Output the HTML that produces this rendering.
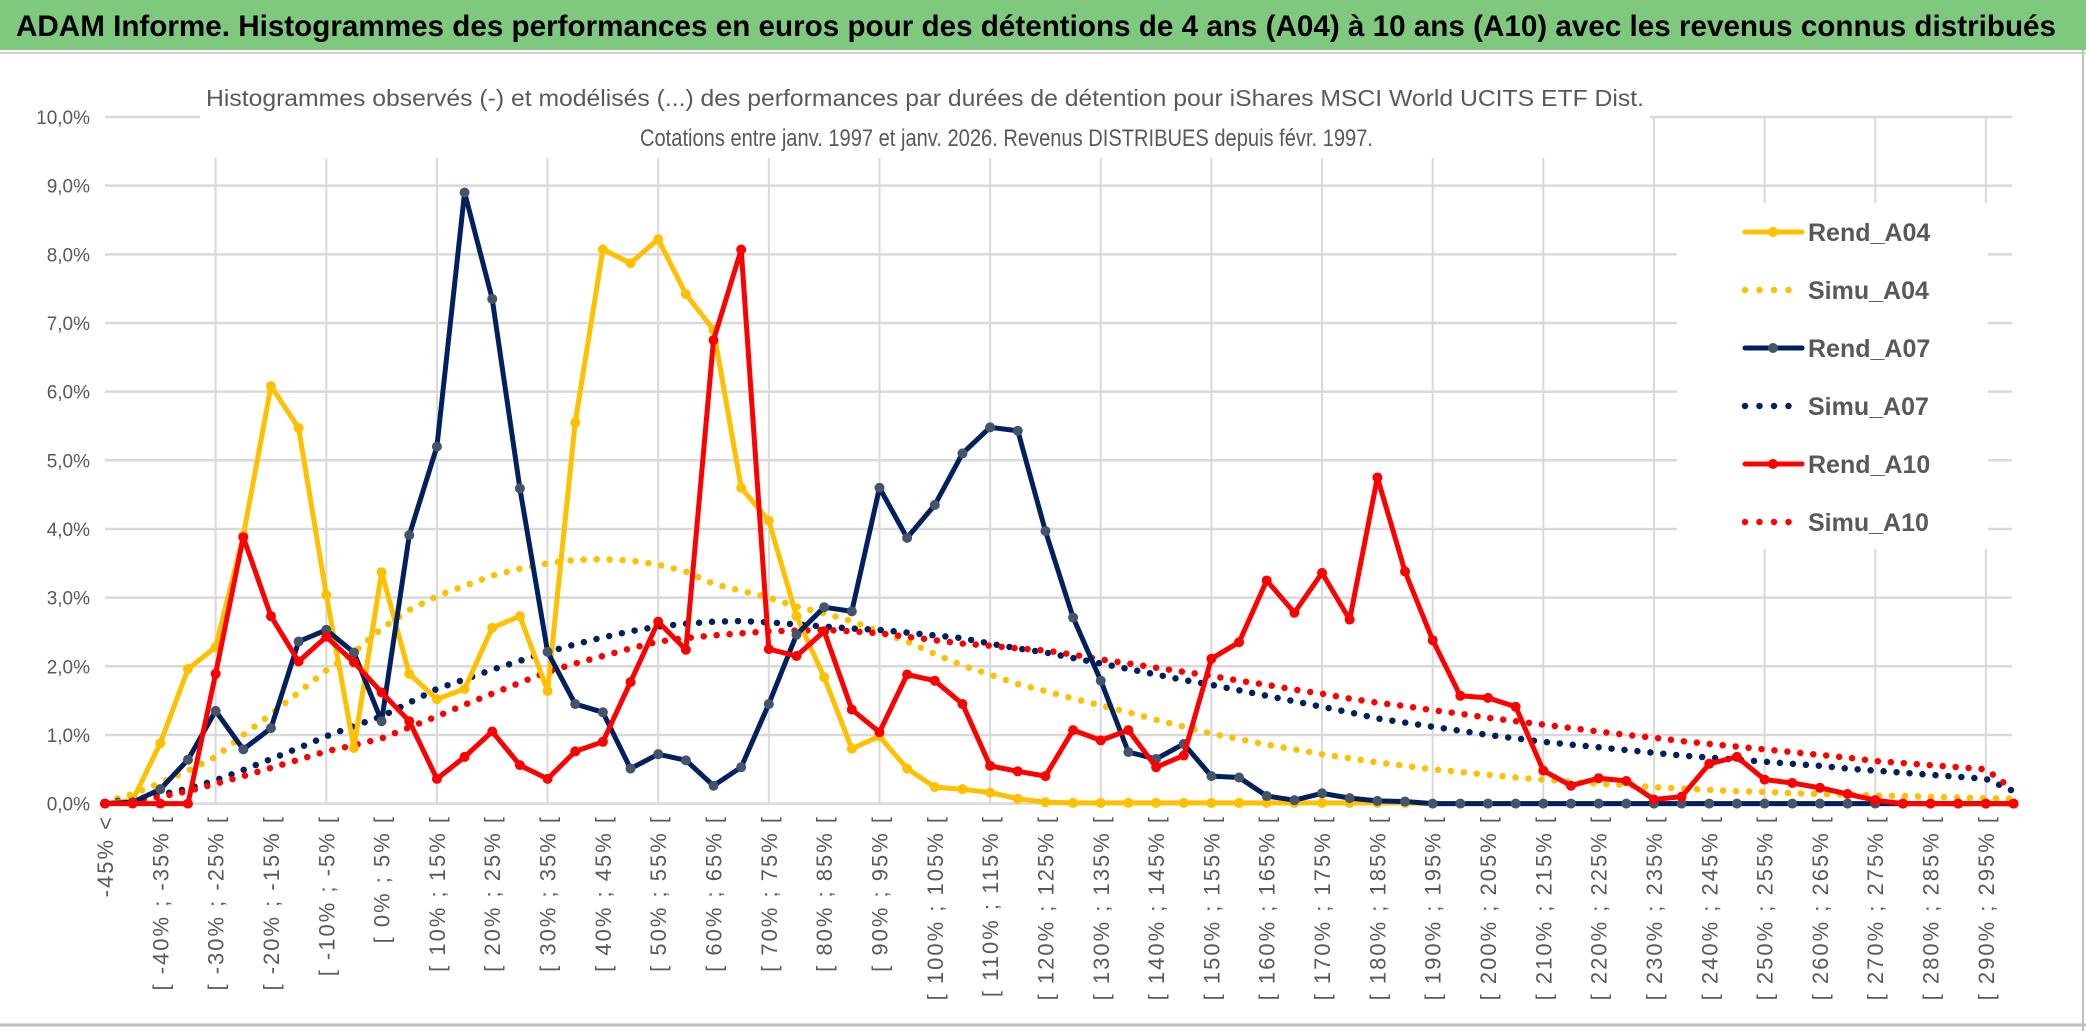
<!DOCTYPE html>
<html><head><meta charset="utf-8">
<style>
html,body{margin:0;padding:0;background:#fff;}
svg{display:block;}
text{font-family:"Liberation Sans",sans-serif;}
</style></head>
<body>
<svg id="chart" width="2086" height="1031" viewBox="0 0 2086 1031" xmlns="http://www.w3.org/2000/svg">
<rect x="0" y="0" width="2086" height="1031" fill="#fff"/>
<rect x="0" y="0" width="2086" height="50" fill="#7fc97f"/>
<line x1="0" y1="53" x2="2086" y2="53" stroke="#d0d0d0" stroke-width="2"/>
<text x="16" y="36" font-size="30" font-weight="bold" fill="#000" textLength="2040" lengthAdjust="spacingAndGlyphs">ADAM Informe. Histogrammes des performances en euros pour des détentions de 4 ans (A04) à 10 ans (A10) avec les revenus connus distribués</text>
<line x1="2083" y1="50" x2="2083" y2="1031" stroke="#bfbfbf" stroke-width="2"/>
<line x1="0" y1="1025" x2="2086" y2="1025" stroke="#bfbfbf" stroke-width="3"/>
<g id="grid"></g>
<rect x="200" y="60" width="1450" height="98" fill="#fff"/>
<text x="206" y="106" font-size="23" fill="#595959" textLength="1438" lengthAdjust="spacingAndGlyphs">Histogrammes observés (-) et modélisés (...) des performances par durées de détention pour iShares MSCI World UCITS ETF Dist.</text>
<text x="640" y="146" font-size="24" fill="#595959" textLength="733" lengthAdjust="spacingAndGlyphs">Cotations entre janv. 1997 et janv. 2026. Revenus DISTRIBUES depuis févr. 1997.</text>
<g id="yticks"></g>
<g id="xticks"></g>
<g id="series"></g>
<g id="legend"></g>
</svg>
<script>
const categories=["-45% <"];
const binStarts=[];
for(let a=-45;a<=295;a+=5){binStarts.push(a);}
const yTicks=[0,1,2,3,4,5,6,7,8,9,10];
const yTickLabels=["0,0%","1,0%","2,0%","3,0%","4,0%","5,0%","6,0%","7,0%","8,0%","9,0%","10,0%"];
const rendA04=[0,0.05,0.88,1.96,2.28,3.9,6.08,5.47,3.04,0.81,3.37,1.89,1.52,1.67,2.56,2.73,1.64,5.55,8.07,7.87,8.22,7.42,6.9,4.6,4.12,2.73,1.84,0.8,0.98,0.51,0.24,0.21,0.16,0.07,0.02,0.01,0.01,0.01,0.01,0.01,0.01,0.01,0.01,0.01,0.01,0.01,0.01,0.01,0,0,0,0,0,0,0,0,0,0,0,0,0,0,0,0,0,0,0,0,0,0];
const simuA04=[0.02,0.14,0.3,0.48,0.68,1.0,1.3,1.62,1.94,2.2,2.55,2.82,3.02,3.17,3.32,3.42,3.5,3.55,3.56,3.54,3.48,3.38,3.2,3.1,3.0,2.87,2.77,2.66,2.5,2.36,2.18,2.01,1.88,1.74,1.64,1.53,1.43,1.33,1.22,1.12,1.02,0.94,0.86,0.79,0.72,0.66,0.6,0.55,0.5,0.46,0.42,0.38,0.35,0.32,0.29,0.27,0.24,0.22,0.2,0.18,0.17,0.15,0.14,0.13,0.12,0.11,0.1,0.09,0.08,0.07];
const rendA07=[0,0.02,0.21,0.64,1.35,0.79,1.1,2.36,2.53,2.2,1.2,3.91,5.2,8.9,7.35,4.59,2.21,1.45,1.33,0.51,0.72,0.63,0.26,0.53,1.45,2.46,2.86,2.8,4.6,3.87,4.35,5.1,5.48,5.43,3.97,2.71,1.79,0.75,0.65,0.87,0.4,0.38,0.11,0.05,0.15,0.08,0.04,0.03,0,0,0,0,0,0,0,0,0,0,0,0,0,0,0,0,0,0,0,0,0,0];
const simuA07=[0.02,0.06,0.13,0.22,0.34,0.49,0.65,0.81,0.98,1.13,1.27,1.47,1.67,1.81,1.95,2.08,2.21,2.32,2.42,2.51,2.58,2.62,2.65,2.66,2.64,2.61,2.58,2.55,2.53,2.49,2.45,2.41,2.33,2.26,2.2,2.12,2.04,1.96,1.88,1.8,1.73,1.65,1.57,1.49,1.41,1.33,1.24,1.18,1.12,1.06,1.0,0.95,0.9,0.86,0.82,0.78,0.74,0.7,0.67,0.64,0.61,0.58,0.55,0.51,0.48,0.45,0.42,0.39,0.36,0.18];
const rendA10=[0,0,0,0,1.89,3.88,2.73,2.07,2.43,2.06,1.62,1.2,0.36,0.68,1.05,0.56,0.36,0.76,0.9,1.77,2.65,2.24,6.75,8.07,2.25,2.15,2.51,1.37,1.04,1.88,1.79,1.45,0.55,0.47,0.4,1.07,0.92,1.07,0.53,0.7,2.11,2.35,3.25,2.78,3.36,2.68,4.75,3.38,2.38,1.57,1.54,1.41,0.48,0.26,0.37,0.33,0.06,0.1,0.58,0.68,0.35,0.3,0.23,0.14,0.05,0,0,0,0,0];
const simuA10=[0.01,0.04,0.1,0.18,0.29,0.4,0.52,0.64,0.76,0.85,0.95,1.11,1.27,1.44,1.6,1.76,1.92,2.04,2.15,2.26,2.36,2.41,2.45,2.48,2.51,2.52,2.53,2.51,2.48,2.43,2.38,2.33,2.3,2.26,2.23,2.17,2.1,2.04,1.98,1.92,1.86,1.79,1.73,1.66,1.6,1.53,1.47,1.42,1.36,1.31,1.25,1.2,1.15,1.1,1.05,1.0,0.96,0.91,0.87,0.83,0.79,0.75,0.71,0.67,0.62,0.59,0.56,0.53,0.5,0.2];
binStarts.forEach(a=>categories.push("[ "+a+"% ; "+(a+5)+"% ["));

const NS="http://www.w3.org/2000/svg";
const X0=105,STEP=27.66,Y0=803.6,YPER=68.66,XR=2012;
function xs(i){return X0+i*STEP;}
function ys(v){return Y0-v*YPER;}
function mk(tag,attrs,parent){const e=document.createElementNS(NS,tag);for(const k in attrs)e.setAttribute(k,attrs[k]);parent.appendChild(e);return e;}

const grid=document.getElementById('grid');
yTicks.forEach(t=>{
  const l=mk('line',{x1:X0,x2:XR,y1:ys(t),y2:ys(t),stroke:'#d9d9d9','stroke-width':2.5},grid);
  
  
});
for(let i=4;i<categories.length;i+=4){
  const l=mk('line',{x1:xs(i),x2:xs(i),y1:ys(10),y2:ys(0),stroke:'#d9d9d9','stroke-width':2},grid);
  
  
}
const yt=document.getElementById('yticks');
yTicks.forEach((t,k)=>{
  const tx=mk('text',{x:90,y:ys(t)+7,'text-anchor':'end','font-size':19,fill:'#595959'},yt);
  tx.textContent=yTickLabels[k];
  
  
});
const xt=document.getElementById('xticks');
for(let i=0;i<categories.length;i+=2){
  const x=xs(i)+8,y=815;
  const tx=mk('text',{x:x,y:y,transform:'rotate(-90 '+x+' '+y+')','text-anchor':'end','font-size':22,'letter-spacing':2,fill:'#595959'},xt);
  tx.textContent=categories[i];
  
  
}
const sg=document.getElementById('series');
function pts(arr){return arr.map((v,i)=>xs(i).toFixed(1)+','+ys(v).toFixed(1)).join(' ');}
function dotted(arr,color,name){
  const p=mk('polyline',{points:pts(arr),fill:'none',stroke:color,'stroke-width':6.5,'stroke-linecap':'round','stroke-dasharray':'0 13'},sg);
  
  
}
function solid(arr,color,mcolor,name){
  const p=mk('polyline',{points:pts(arr),fill:'none',stroke:color,'stroke-width':5,'stroke-linejoin':'round'},sg);
  
  
  arr.forEach((v,i)=>{
    const c=mk('circle',{cx:xs(i),cy:ys(v),r:5,fill:mcolor},sg);
    
    
  });
}
dotted(simuA04,'#ffc000','simu-a04-line');
dotted(simuA07,'#002060','simu-a07-line');
dotted(simuA10,'#ff0000','simu-a10-line');
solid(rendA04,'#ffc000','#ffc000','rend-a04-line');
solid(rendA07,'#002060','#44546a','rend-a07-line');
solid(rendA10,'#ff0000','#ff0000','rend-a10-line');

const lg=document.getElementById('legend');
const bg=mk('rect',{x:1677,y:203,width:311,height:346,fill:'#fff'},lg);


const legNames=["Rend_A04","Simu_A04","Rend_A07","Simu_A07","Rend_A10","Simu_A10"];
const legColors=["#ffc000","#ffc000","#002060","#002060","#ff0000","#ff0000"];
legNames.forEach((n,k)=>{
  const y=232+k*58;
  const g=mk('g',{},lg);
  
  
  if(k%2===0){
    mk('line',{x1:1745,x2:1802,y1:y,y2:y,stroke:legColors[k],'stroke-width':5,'stroke-linecap':'round'},g);
    mk('circle',{cx:1773,cy:y,r:5,fill:k===2?'#44546a':legColors[k]},g);
  }else{
    mk('line',{x1:1745,x2:1792,y1:y,y2:y,stroke:legColors[k],'stroke-width':6.5,'stroke-linecap':'round','stroke-dasharray':'0 14.5'},g);
  }
  const t=mk('text',{x:1808,y:y+9,'font-size':25,fill:'#595959','font-weight':'bold'},g);
  t.textContent=n;
});
</script>
</body></html>
